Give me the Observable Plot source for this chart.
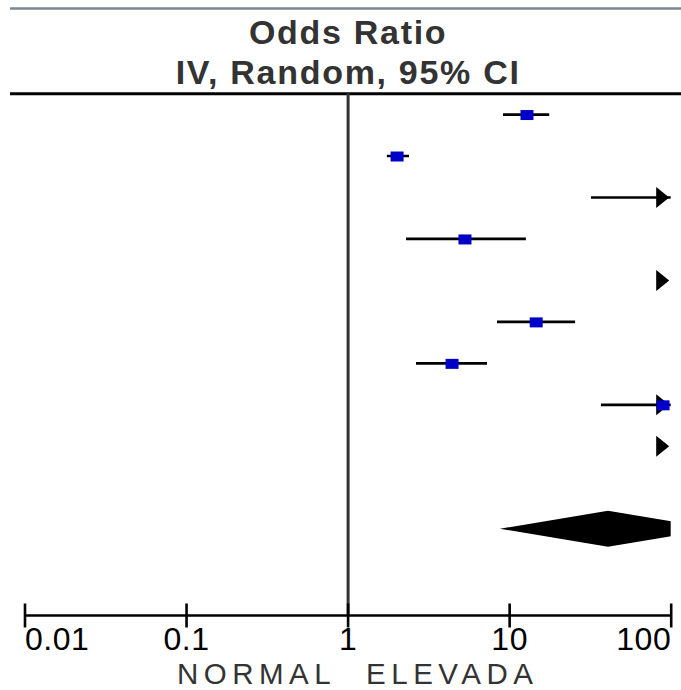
<!DOCTYPE html>
<html>
<head>
<meta charset="utf-8">
<script src="https://cdn.jsdelivr.net/npm/d3@7"></script>
<script src="https://cdn.jsdelivr.net/npm/@observablehq/plot@0.6"></script>
<style>
  body { margin: 0; background: #fff; }
  svg { display: block; }
  g[aria-description="header"] text { letter-spacing: 1.7px; }
  g[aria-description="favours"] text { letter-spacing: 5.5px; }
  g[aria-description="ticklabels"] text { letter-spacing: 0.5px; }
</style>
</head>
<body>
<div id="chart"></div>
<script>
// ---- data ----
const studyRows = [0, 1, 2, 3, 4, 5, 6, 7, 8];
const orEstimate = [12.8, 2.01, 180, 5.29, 400, 14.6, 4.40, 89, 300];
const ciLower    = [9.16, 1.75, 32.1, 2.30, 150, 8.41, 2.65, 37.0, 120];
const ciUpper    = [17.7, 2.40, 1000, 12.7, 1100, 25.6, 7.29, 214, 800];

const totalRow = 10;
const totalEstimate = 40.9;
const totalLower = 8.77;
const totalUpper = 190;

const tickValues = [0.01, 0.1, 1, 10, 100];
const tickLabels = ["0.01", "0.1", "1", "10", "100"];

const titleLine1 = "Odds Ratio";
const titleLine2 = "IV, Random, 95% CI";
const favoursLeft = "NORMAL";
const favoursRight = "ELEVADA";

// ---- derived tables ----
const xMin = tickValues[0], xMax = tickValues[tickValues.length - 1];
const studies = studyRows.map((row, i) => ({
  row, est: orEstimate[i], lo: ciLower[i], hi: ciUpper[i]
}));
const diamondHalf = 0.434;
const diamond = [
  {x: totalLower, y1: totalRow, y2: totalRow},
  {x: totalEstimate, y1: totalRow - diamondHalf, y2: totalRow + diamondHalf},
  {x: totalUpper, y1: totalRow, y2: totalRow}
];
const ticks = tickValues.map((v, i) => ({v, label: tickLabels[i], i}));
const yTop = -0.5, yAxis = 12.08;

// ---- symbols ----
const squareSym = {draw(ctx) { ctx.rect(-6.5, -4.5, 13, 10); }};
const arrowSym = {draw(ctx) { ctx.moveTo(-2, 0); ctx.lineTo(-15, -10.5); ctx.lineTo(-15, 10.5); ctx.closePath(); }};
const tickSym = {draw(ctx) { ctx.moveTo(0, -12); ctx.lineTo(0, 12); }};

const font = "'Liberation Sans', Arial, sans-serif";
const tickText = {x: "v", text: "label", frameAnchor: "bottom", lineAnchor: "middle", dy: 24.3, fontSize: 32, fill: "black", ariaDescription: "ticklabels"};
const favText = {x: () => 1, text: d => d, frameAnchor: "bottom", lineAnchor: "middle", dy: 59.2, fontSize: 29.5, fill: "#333", ariaDescription: "favours"};

const chart = Plot.plot({
  width: 681,
  height: 690,
  marginTop: 93.3,
  marginBottom: 75,
  marginLeft: 24.5,
  marginRight: 10.3,
  style: {fontFamily: font, background: "#fff"},
  x: {type: "log", domain: [xMin, xMax], axis: null},
  y: {domain: [yTop, yAxis], reverse: true, axis: null},
  marks: [
    // top grey border and header rule
    Plot.ruleY([yTop], {stroke: "#7b8793", strokeWidth: 2.5, dy: -85.3, insetLeft: -14.5, insetRight: -10.3}),
    Plot.ruleY([yTop], {stroke: "black", strokeWidth: 3, insetLeft: -14.5, insetRight: -10.3}),
    // line of no effect
    Plot.ruleX([1], {stroke: "#333", strokeWidth: 3}),
    // confidence intervals
    Plot.ruleY(studies, {y: "row", x1: "lo", x2: "hi", stroke: "black", strokeWidth: 2.7, clip: true}),
    // off-scale arrows
    Plot.dot(studies.filter(d => d.hi > xMax), {x: () => xMax, y: "row", symbol: arrowSym, fill: "black", stroke: "none"}),
    // point estimates
    Plot.dot(studies.filter(d => d.est <= xMax), {x: "est", y: "row", symbol: squareSym, fill: "#0000c8", stroke: "none"}),
    // pooled diamond
    Plot.areaY(diamond, {x: "x", y1: "y1", y2: "y2", fill: "black", clip: true}),
    // x axis
    Plot.ruleY([yAxis], {stroke: "black", strokeWidth: 2.6}),
    Plot.dot(ticks, {x: "v", frameAnchor: "bottom", symbol: tickSym, fill: "none", stroke: "black", strokeWidth: 2.6}),
    Plot.text(ticks.filter(d => d.i === 0), {...tickText, textAnchor: "start"}),
    Plot.text(ticks.filter(d => d.i > 0 && d.i < ticks.length - 1), {...tickText, textAnchor: "middle"}),
    Plot.text(ticks.filter(d => d.i === ticks.length - 1), {...tickText, textAnchor: "end"}),
    // favours labels
    Plot.text([favoursLeft], {...favText, dx: -12, textAnchor: "end"}),
    Plot.text([favoursRight], {...favText, dx: 18, textAnchor: "start"}),
    // header titles
    Plot.text([titleLine1], {x: () => 1, text: d => d, frameAnchor: "top", lineAnchor: "middle", dy: -60.9, textAnchor: "middle", fontSize: 34, fontWeight: "bold", fill: "#333", ariaDescription: "header"}),
    Plot.text([titleLine2], {x: () => 1, text: d => d, frameAnchor: "top", lineAnchor: "middle", dy: -20.9, textAnchor: "middle", fontSize: 34, fontWeight: "bold", fill: "#333", ariaDescription: "header"})
  ]
});
document.getElementById("chart").appendChild(chart);
</script>
</body>
</html>
